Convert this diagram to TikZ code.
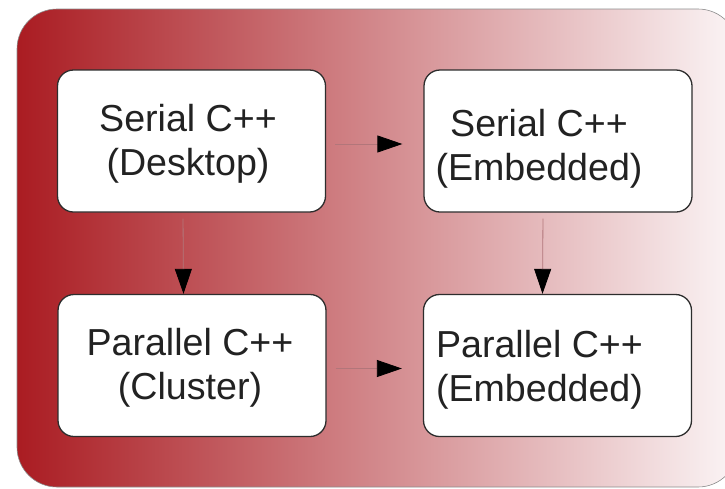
\documentclass[tikz,border=0pt]{standalone}
\usepackage{fontspec}
\setmainfont{Liberation Sans}
\usetikzlibrary{arrows.meta}

\definecolor{bgleft}{RGB}{170,28,34}
\definecolor{bgright}{RGB}{251,245,246}
\definecolor{linkcol}{RGB}{178,118,122}
\definecolor{boxline}{RGB}{45,45,45}
\definecolor{txtcol}{RGB}{34,34,34}

\tikzset{
  stagebox/.style={draw=boxline, line width=1.3pt, fill=white,
    rounded corners=16pt, minimum width=268pt, minimum height=142pt,
    inner sep=0pt},
  stagetext/.style={align=center, text=txtcol, inner sep=0pt,
    font=\fontsize{37.6pt}{44pt}\selectfont},
  link/.style={draw=linkcol, line width=0.8pt,
    -{Triangle[length=25pt, width=17pt, color=black]}},
}

\begin{document}
\begin{tikzpicture}[x=1pt, y=-1pt]
  \useasboundingbox (0,0) rectangle (725,488);
  \clip (0,0) rectangle (725,488);

  % shaded panel behind the four stages
  \path[left color=bgleft, right color=bgright, draw=black!45,
        line width=0.6pt, rounded corners=40pt]
    (17,9) rectangle (738,487);

  % the four stages
  \node[stagebox] (sd) at (191.5,141)   {};
  \node[stagebox] (se) at (558,141)     {};
  \node[stagebox] (pc) at (192,365.5)   {};
  \node[stagebox] (pe) at (557.5,365.5) {};

  \node[stagetext] (tsd) at (188,144)   {Serial C++\\(Desktop)};
  \node[stagetext] (tse) at (539,148.5) {Serial C++\\(Embedded)};
  \node[stagetext] (tpc) at (190,368)   {Parallel C++\\(Cluster)};
  \node[stagetext] (tpe) at (539.5,370) {Parallel C++\\(Embedded)};

  % porting paths
  \draw[link, shorten <=9pt, shorten >=21pt]
    ([yshift=-3pt]sd.east) -- ([yshift=-3pt]se.west);
  \draw[link, shorten <=6pt]
    ([xshift=-8.5pt]sd.south) -- ([xshift=-8.5pt]pc.north);
  \draw[link, shorten <=6pt]
    ([xshift=-15pt]se.south) -- ([xshift=-15pt]pe.north);
  \draw[link, shorten <=9pt, shorten >=21pt]
    ([yshift=-3pt]pc.east) -- ([yshift=-3pt]pe.west);
\end{tikzpicture}
\end{document}
